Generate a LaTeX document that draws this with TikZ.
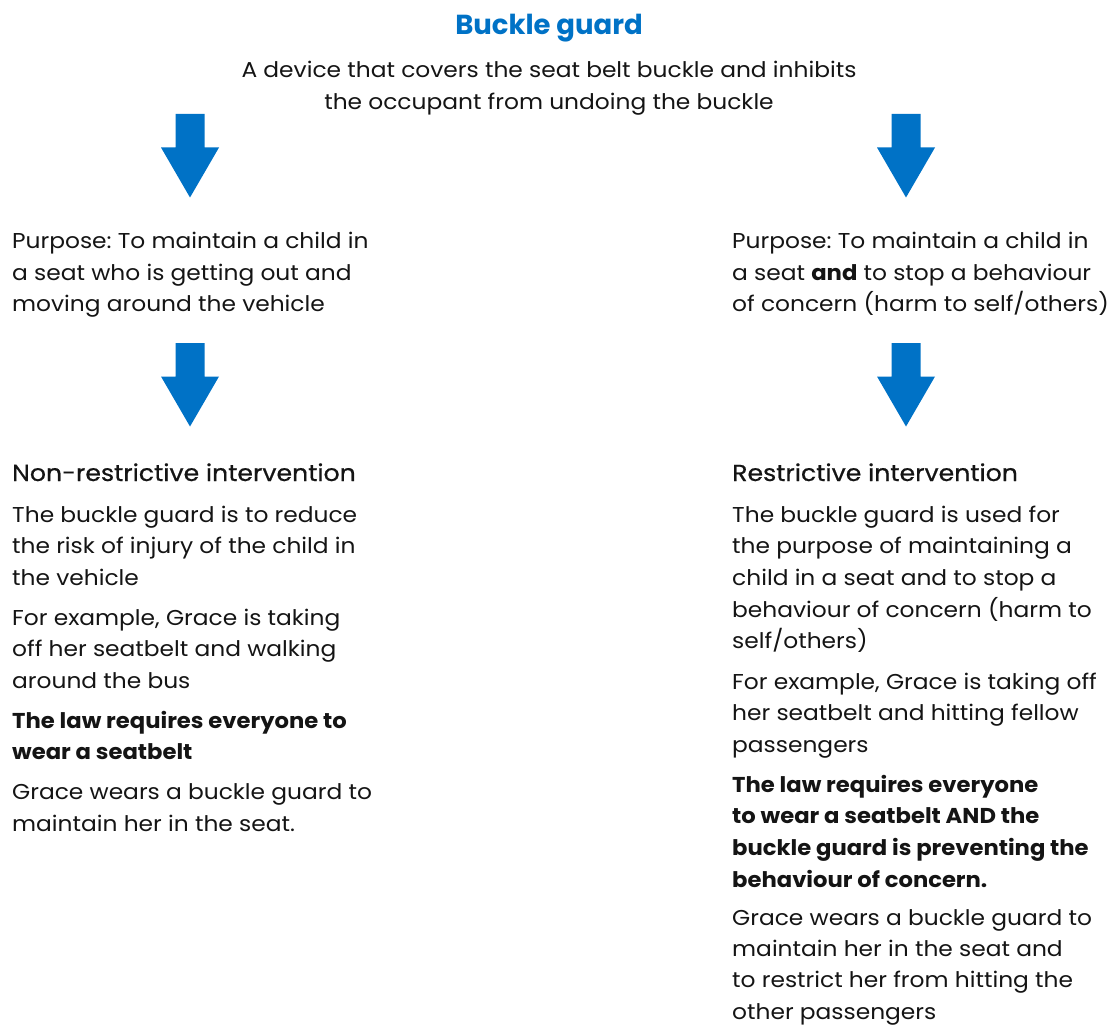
\documentclass[tikz,border=0pt]{standalone}
\usepackage{fontspec}
\setmainfont{Poppins}[FakeStretch=1.085,BoldFeatures={FakeStretch=1.055}]
\newfontfamily\medfont{Poppins}[FakeStretch=1.085,FakeBold=0.6]
\newfontfamily\titlefont{Poppins}
\definecolor{vicblue}{RGB}{0,114,198}
\definecolor{txt}{RGB}{20,20,20}
\frenchspacing
\newcommand{\bodysize}{\fontsize{21.5}{31.7}\selectfont}
\newcommand{\lines}[1]{\begin{tabular}[t]{@{}l@{}}#1\end{tabular}}
\newcommand{\clines}[1]{\begin{tabular}[t]{@{}c@{}}#1\end{tabular}}
\tikzset{
  txtblock/.style={anchor=base west, inner sep=0pt, text=txt, font=\bodysize},
  ctrblock/.style={anchor=base, inner sep=0pt, text=txt, font=\bodysize},
  headblock/.style={txtblock, font=\medfont\fontsize{23.2}{31.7}\selectfont},
  downarrow/.pic={\fill[vicblue] (-14.5,0) -- (14.5,0) -- (14.5,33.5) -- (29,33.5) -- (0,83.5) -- (-29,33.5) -- (-14.5,33.5) -- cycle;}
}
\begin{document}
\begin{tikzpicture}[x=1pt,y=-1pt]
\useasboundingbox (0,0) rectangle (1116,1027);
\node[anchor=base, inner sep=0pt, text=vicblue, font=\titlefont\fontsize{27.5}{30}\selectfont\bfseries] (title) at (549,35) {Buckle guard};
\node[ctrblock] (desc) at (549,77.5) {\clines{A device that covers the seat belt buckle and inhibits\\the occupant from undoing the buckle}};
% arrows
\pic at (190,114) {downarrow};
\pic at (906,114) {downarrow};
\pic at (190,343) {downarrow};
\pic at (906,343) {downarrow};
% left column
\node[txtblock] (lpurp) at (12,248.5) {\lines{Purpose: To maintain a child in\\a seat who is getting out and\\moving around the vehicle}};
\node[headblock] (lhead) at (12,481) {Non-restrictive intervention};
\node[txtblock] (ldesc) at (12,522) {\lines{The buckle guard is to reduce\\the risk of injury of the child in\\the vehicle}};
\node[txtblock] (lex) at (12,625) {\lines{For example, Grace is taking\\off her seatbelt and walking\\around the bus}};
\node[txtblock, font=\bodysize\bfseries] (llaw) at (12,728) {\lines{The law requires everyone to\\wear a seatbelt}};
\node[txtblock] (lres) at (12,799.5) {\lines{Grace wears a buckle guard to\\maintain her in the seat.}};
% right column
\node[txtblock] (rpurp) at (732,248.5) {\lines{Purpose: To maintain a child in\\a seat \textbf{and} to stop a behaviour\\of concern (harm to self/others)}};
\node[headblock] (rhead) at (732,481) {Restrictive intervention};
\node[txtblock] (rdesc) at (732,522) {\lines{The buckle guard is used for\\the purpose of maintaining a\\child in a seat and to stop a\\behaviour of concern (harm to\\self/others)}};
\node[txtblock] (rex) at (732,689) {\lines{For example, Grace is taking off\\her seatbelt and hitting fellow\\passengers}};
\node[txtblock, font=\bodysize\bfseries] (rlaw) at (732,792) {\lines{The law requires everyone\\to wear a seatbelt AND the\\buckle guard is preventing the\\behaviour of concern.}};
\node[txtblock, font=\fontsize{21.5}{31.2}\selectfont] (rres) at (732,925.5) {\lines{Grace wears a buckle guard to\\maintain her in the seat and\\to restrict her from hitting the\\other passengers}};
\end{tikzpicture}
\end{document}
